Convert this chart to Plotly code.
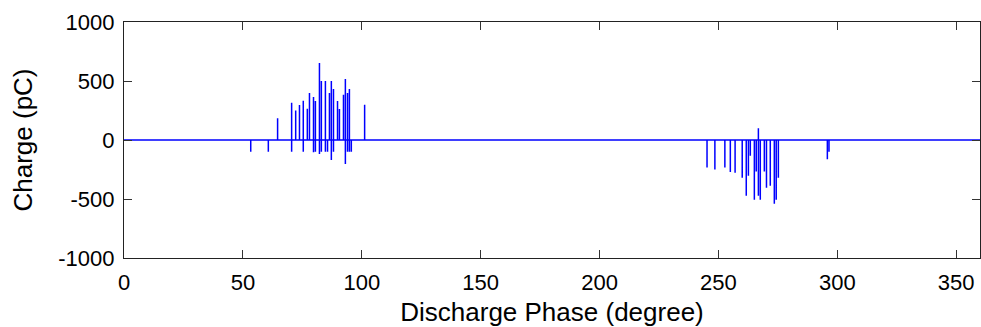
import plotly.graph_objects as go

# Discharge pulses: phase (degree) and charge (pC)
phase_deg = [53.3, 60.7, 64.6, 70.5, 70.5, 72.2, 73.8, 75.4, 75.4, 77.1, 78.0,
             79.7, 79.7, 80.5, 80.5, 82.2, 82.2, 83.0, 83.0, 84.7, 84.7, 85.6,
             86.4, 87.2, 87.2, 88.1, 88.1, 89.8, 90.6, 92.3, 93.1, 93.1, 94.0,
             94.0, 94.8, 94.8, 95.6, 101.2,
             245.2, 248.5, 252.7, 255.0, 257.0, 260.0, 261.7, 262.6, 263.4,
             265.1, 265.9, 266.8, 266.8, 267.6, 269.3, 270.2, 271.8, 273.5,
             274.3, 275.2, 295.8, 296.5]
charge_pC = [-99, -99, 184, 316, -99, 251, 296, 333, -99, 265, 398,
             364, -104, 331, -99, 652, -118, 500, -99, 500, -99, -99,
             398, 500, -169, 432, -99, 331, 263, 384, 517, -203, 398,
             -99, 432, -99, -99, 298,
             -234, -251, -234, -271, -277, -319, -472, -302, -133,
             -506, -268, 99, -472, -506, -268, -404, -387, -540,
             -506, -319, -164, -99]

x_range = [0, 360]
y_range = [-1000, 1000]
x_ticks = [0, 50, 100, 150, 200, 250, 300, 350]
y_ticks = [-1000, -500, 0, 500, 1000]
y_ticklabels = ["-1000", "-500", "0", "500", "1000"]

# Build the continuous phase-resolved trace (zero baseline with pulses)
xs, ys = [x_range[0]], [0]
for p, q in zip(phase_deg, charge_pC):
    xs += [p, p, p]
    ys += [0, q, 0]
xs.append(x_range[1])
ys.append(0)

fig = go.Figure()
fig.add_trace(go.Scatter(x=xs, y=ys, mode="lines",
                         line=dict(color="#0000FF", width=1.5),
                         hoverinfo="skip", showlegend=False))

font = dict(family="Liberation Sans, Arial, sans-serif", size=22, color="black")
fig.update_layout(
    width=981, height=327,
    margin=dict(l=124, r=1, t=22, b=69),
    paper_bgcolor="white", plot_bgcolor="white",
    font=font,
    xaxis=dict(range=x_range, tickvals=x_ticks, ticks="inside", ticklen=8,
               tickcolor="#333", showline=True, linecolor="#222", linewidth=1.3,
               mirror="ticks", showgrid=False, zeroline=False,
               title=dict(text="Discharge Phase (degree)", standoff=9),
               ticklabelstandoff=4),
    yaxis=dict(range=y_range, tickvals=y_ticks, ticktext=y_ticklabels,
               ticks="inside", ticklen=8, tickcolor="#333", showline=True,
               linecolor="#222", linewidth=1.3, mirror="ticks", showgrid=False,
               zeroline=False, title=dict(text="Charge (pC)", standoff=18),
               ticklabelstandoff=4),
)

fig.write_html("out.html")
